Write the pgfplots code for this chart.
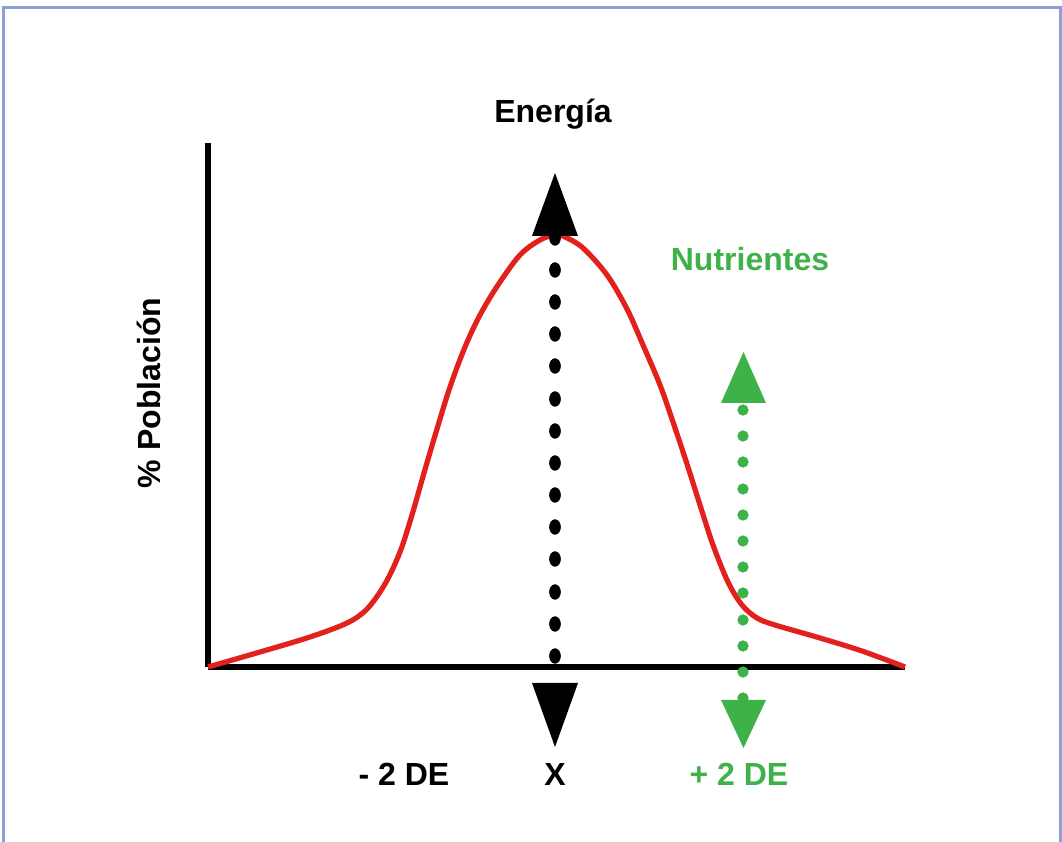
\documentclass[border=0pt]{standalone}
\usepackage{pgfplots}
\pgfplotsset{compat=1.18}
\usepackage{fontspec}
\setmainfont{Liberation Sans}
\definecolor{myred}{RGB}{226,32,28}
\definecolor{mygreen}{RGB}{62,178,72}
\definecolor{frame}{RGB}{140,160,215}
\begin{document}
\begin{tikzpicture}
\begin{axis}[
  scale only axis,
  width=348.5bp, height=262bp,
  xmin=208, xmax=905, ymin=0, ymax=524,
  axis lines=left,
  axis line style={line width=2.6bp, -},
  ticks=none,
  clip=false,
  font=\fontsize{16bp}{19bp}\selectfont\bfseries,
]
% frame (left, top, right)
\draw[frame, line width=1.5bp] (axis cs:4,-175) -- (axis cs:4,659) -- (axis cs:1060,659) -- (axis cs:1060,-175);
\coordinate (bl) at (axis cs:0,-175);
\coordinate (tr) at (axis cs:1062,667);
% bell curve
\addplot[myred, line width=2.6bp, smooth, tension=0.55] coordinates {
 (208,0) (260,15) (310,30) (347,44) (367,58) (385,83) (400,115) (412,152)
 (424,194) (437,238) (450,280) (465,320) (480,352) (498,382)
 (520,412) (540,427) (555,432) (565,430) (583,419) (607,392) (627,358)
 (643,322) (660,282) (673,245) (687,203) (700,162) (713,122) (728,85)
 (742,62) (757,49) (775,42) (820,29) (862,16) (905,0)
};
% black dotted line
\addplot[only marks, mark=*, black, mark size=2.7bp, mark options={yscale=1.35}] coordinates {
 (555,429) (555,397) (555,365) (555,333) (555,301) (555,268) (555,236)
 (555,204) (555,172) (555,140) (555,108) (555,75) (555,43) (555,11)
};
% black arrowheads
\addplot[fill=black, draw=none] coordinates {(532,431) (578,431) (555,494)} -- cycle;
\addplot[fill=black, draw=none] coordinates {(532,-16) (578,-16) (555,-80)} -- cycle;
% green dotted line
\addplot[only marks, mark=*, mygreen, mark size=2.6bp] coordinates {
 (743,257) (743,231) (743,205) (743,178) (743,152) (743,126) (743,100)
 (743,74) (743,47) (743,21) (743,-5) (743,-31)
};
% green arrowheads
\addplot[fill=mygreen, draw=none] coordinates {(721,264) (766,264) (743.5,315)} -- cycle;
\addplot[fill=mygreen, draw=none] coordinates {(721,-33) (766,-33) (743.5,-81)} -- cycle;
% labels
\node[anchor=base] at (axis cs:553,544) {Energía};
\node[anchor=base, text=mygreen] at (axis cs:750,396) {Nutrientes};
\node[anchor=base, rotate=90] at (axis cs:161,274) {\% Población};
\node[anchor=base] at (axis cs:404,-118) {- 2 DE};
\node[anchor=base] at (axis cs:555,-118) {X};
\node[anchor=base, text=mygreen] at (axis cs:739,-118) {+ 2 DE};
\end{axis}
\pgfresetboundingbox
\useasboundingbox (bl) rectangle (tr);
\end{tikzpicture}
\end{document}
